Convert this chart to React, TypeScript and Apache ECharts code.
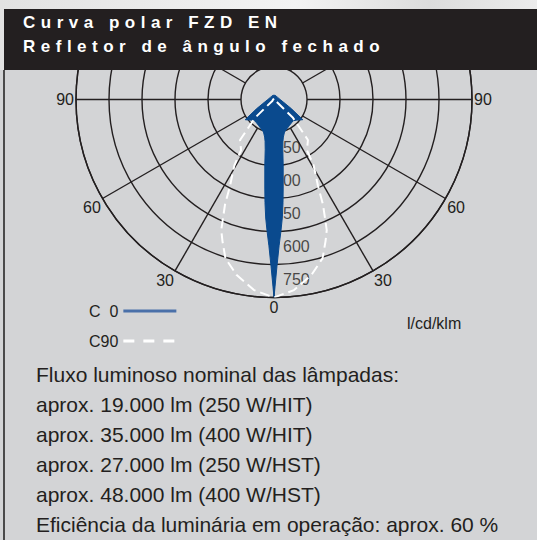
import React, { useEffect, useRef } from "react";
import * as echarts from "echarts";

// ---------- data ----------
const titleLines = ["Curva polar FZD EN", "Refletor de ângulo fechado"];
const spokeAngles = [0, 30, 60, 90, 120, 150, 180, 210, 240, 270, 300, 330];
const radiusLabelValues = [150, 300, 450, 600, 750];
// C0 plane (symmetric), angle in degrees from nadir, intensity in cd/klm
const c0Angles = [0, 1, 2, 3, 4, 5, 6, 8, 10, 12, 14, 18, 30, 42, 48, 55, 62, 70, 90, 120, 150, 180];
const c0Values = [750, 610, 515, 450, 390, 320, 250, 150, 80, 45, 26, 5, -12, -20, -10, 10, -60, -96, -122, -131, -131, -130];
// C90 plane (symmetric)
const c90Angles = [0, 6, 12, 17, 20, 22, 25, 27, 31, 33, 40, 46, 50, 90, 180];
const c90Values = [750, 721, 666, 605, 535, 490, 377, 290, 200, 125, 90, -30, -140, -146, -146];
const seriesNames = ["C\u20070", "C90"];
const unitLabel = "l/cd/klm";
const infoLines = [
  "Fluxo luminoso nominal das lâmpadas:",
  "aprox. 19.000 lm (250 W/HIT)",
  "aprox. 35.000 lm (400 W/HIT)",
  "aprox. 27.000 lm (250 W/HST)",
  "aprox. 48.000 lm (400 W/HST)",
  "Eficiência da luminária em operação: aprox. 60 %",
];

// ---------- styles ----------
const FONT = "'Liberation Sans', Arial, Helvetica, sans-serif";
const INK = "#231f20";
const BG = "#d3d4d6";
const BLUE = "#0a4a8e";
const LEGEND_BLUE = "#4a70a9";

function loop(angles: number[], values: number[]) {
  const out: number[][] = [];
  for (let i = angles.length - 1; i >= 0; i--) out.push([values[i], angles[i]]);
  for (let i = 1; i < angles.length; i++) out.push([values[i], 360 - angles[i]]);
  return out;
}

export default function App() {
  const ref = useRef<HTMLDivElement>(null);

  useEffect(() => {
    if (!ref.current) return;
    const chart = echarts.init(ref.current, null, { renderer: "svg" });
    const rMin = -150;
    const rMax = radiusLabelValues[radiusLabelValues.length - 1];
    const option: any = {
      animation: false,
      polar: { center: [274, 99.5], radius: 198 },
      angleAxis: {
        type: "value",
        min: 0,
        max: 360,
        interval: 30,
        startAngle: 270,
        clockwise: true,
        axisLine: { show: true, lineStyle: { color: INK, width: 1.4 } },
        axisTick: { show: false },
        splitLine: { show: false },
        axisLabel: {
          margin: 2,
          fontSize: 16,
          fontFamily: FONT,
          color: INK,
          formatter: (v: number) => {
            if (v <= 90) return String(v);
            if (v >= 270 && v < 360) return String(360 - v);
            return "";
          },
        },
      },
      radiusAxis: {
        type: "value",
        min: rMin,
        max: rMax,
        interval: 150,
        axisLine: { show: false },
        axisTick: { show: false },
        axisLabel: { show: false },
        splitLine: { show: true, lineStyle: { color: INK, width: 1.4 } },
      },
      legend: {
        orient: "vertical",
        left: 89,
        top: 303,
        padding: 0,
        align: "right",
        itemWidth: 53,
        itemHeight: 16,
        itemGap: 14,
        textStyle: { fontSize: 16, fontFamily: FONT, color: INK },
        data: [
          {
            name: seriesNames[0],
            itemStyle: { opacity: 0 },
            lineStyle: { color: LEGEND_BLUE, width: 3, type: "solid" },
          },
          {
            name: seriesNames[1],
            itemStyle: { opacity: 0 },
            lineStyle: { color: "#ffffff", width: 3, type: [11, 9] },
          },
        ],
      },
      graphic: [
        {
          type: "text",
          x: 407,
          y: 323,
          style: {
            text: unitLabel,
            fontSize: 16,
            fontFamily: FONT,
            fill: INK,
            align: "left",
            verticalAlign: "middle",
          },
        },
        ...infoLines.map((t, i) => ({
          type: "text",
          x: 36,
          y: 374 + i * 30,
          style: {
            text: t,
            fontSize: 21,
            fontFamily: FONT,
            fill: INK,
            align: "left",
            verticalAlign: "middle",
          },
        })),
      ],
      series: [
        {
          type: "custom",
          coordinateSystem: "polar",
          z: 1,
          silent: true,
          data: spokeAngles.map((a) => [rMax, a]),
          renderItem: (params: any, api: any) => {
            const a = api.value(1);
            const p0 = api.coord([0, a]);
            const p1 = api.coord([api.value(0), a]);
            return {
              type: "line",
              shape: { x1: p0[0], y1: p0[1], x2: p1[0], y2: p1[1] },
              style: { stroke: INK, lineWidth: 1.4 },
            };
          },
        },
        {
          type: "scatter",
          coordinateSystem: "polar",
          z: 1,
          silent: true,
          symbolSize: 0,
          data: radiusLabelValues.map((v) => [v, 0]),
          label: {
            show: true,
            position: "right",
            distance: 0,
            fontSize: 16,
            fontFamily: FONT,
            color: INK,
            formatter: (p: any) => String(p.value[0]),
          },
          labelLayout: (p: any) => {
            const v = radiusLabelValues[p.dataIndex];
            return { dx: v <= 450 ? 0 : 9, dy: -18.5 };
          },
        },
        {
          name: seriesNames[0],
          type: "line",
          coordinateSystem: "polar",
          z: 3,
          symbol: "none",
          smooth: false,
          lineStyle: { color: BLUE, width: 1 },
          itemStyle: { color: BLUE },
          areaStyle: { color: BLUE, opacity: 1, origin: "start" },
          data: loop(c0Angles, c0Values),
        },
        {
          name: seriesNames[1],
          type: "line",
          coordinateSystem: "polar",
          z: 4,
          symbol: "none",
          smooth: false,
          lineStyle: { color: "#ffffff", width: 2, type: [10, 5] },
          itemStyle: { color: "#ffffff" },
          data: loop(c90Angles, c90Values),
        },
      ],
    };
    chart.setOption(option);
    return () => chart.dispose();
  }, []);

  return (
    <div
      style={{
        position: "absolute",
        left: 0,
        top: 0,
        width: 537,
        height: 540,
        background: BG,
        overflow: "hidden",
      }}
    >
      <div ref={ref} style={{ position: "absolute", left: 0, top: 0, width: 537, height: 540 }} />
      <div
        style={{
          position: "absolute",
          left: 0,
          top: 0,
          width: 537,
          height: 70,
          background: "linear-gradient(90deg, #e2e2e2 0%, #f3f3f3 55%, #dcdcdc 80%, #ececec 100%)",
          zIndex: 2,
        }}
      />
      <div
        style={{
          position: "absolute",
          left: 4,
          top: 9,
          width: 533,
          height: 61,
          background: INK,
          zIndex: 3,
        }}
      >
        <div
          style={{
            position: "absolute",
            left: 19,
            top: 2.4,
            fontFamily: FONT,
            fontWeight: "bold",
            fontSize: 17,
            lineHeight: "24px",
            letterSpacing: 5.5,
            color: "#ffffff",
            whiteSpace: "nowrap",
          }}
        >
          {titleLines.map((t) => (
            <div key={t}>{t}</div>
          ))}
        </div>
      </div>
      <div
        style={{
          position: "absolute",
          left: 3,
          top: 70,
          width: 1.5,
          height: 470,
          background: "#4a4a4a",
          zIndex: 2,
        }}
      />
    </div>
  );
}
